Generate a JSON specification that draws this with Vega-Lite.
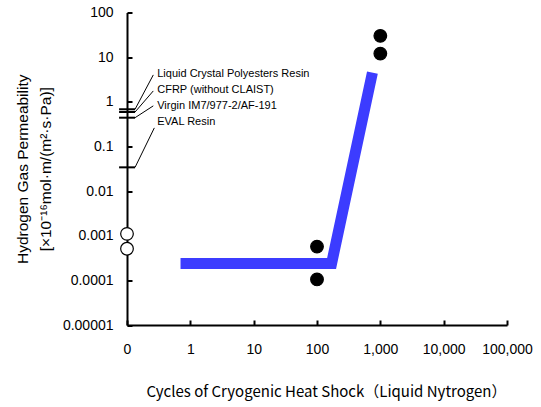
{
  "$schema": "https://vega.github.io/schema/vega-lite/v6.json",
  "width": 380,
  "height": 312.5,
  "autosize": {"type": "none"},
  "padding": {"left": 127, "top": 12.5, "right": 34, "bottom": 82},
  "background": "white",
  "config": {
    "view": {"stroke": null},
    "font": "Liberation Sans",
    "axis": {"grid": false, "domainColor": "black", "tickColor": "black", "labelColor": "black", "titleColor": "black", "domainWidth": 2, "tickWidth": 2, "labelFont": "Liberation Sans", "labelFontSize": 14, "titleFontWeight": "normal"}
  },
  "datasets": {
    "band": [
      {"x": 0.7, "y": 0.00024},
      {"x": 170, "y": 0.00024},
      {"x": 750, "y": 4.5}
    ],
    "pts": [
      {"x": 0.1, "y": 0.0011, "kind": "virgin"},
      {"x": 0.1, "y": 0.00051, "kind": "virgin"},
      {"x": 100, "y": 0.00057, "kind": "cycled"},
      {"x": 100, "y": 0.000105, "kind": "cycled"},
      {"x": 1000, "y": 30, "kind": "cycled"},
      {"x": 1000, "y": 12, "kind": "cycled"}
    ],
    "refs": [
      {"name": "Liquid Crystal Polyesters Resin", "v": 0.68, "x0": 0.075, "x1": 0.134, "xt": 0.26, "yt": 4.0, "xl": 0.30, "yl": 4.2},
      {"name": "CFRP  (without CLAIST)", "v": 0.59, "x0": 0.075, "x1": 0.134, "xt": 0.26, "yt": 1.75, "xl": 0.30, "yl": 1.85},
      {"name": "Virgin IM7/977-2/AF-191", "v": 0.44, "x0": 0.075, "x1": 0.134, "xt": 0.26, "yt": 0.81, "xl": 0.30, "yl": 0.81},
      {"name": "EVAL Resin", "v": 0.034, "x0": 0.075, "x1": 0.134, "xt": 0.27, "yt": 0.26, "xl": 0.30, "yl": 0.355}
    ]
  },
  "layer": [
    {
      "data": {"name": "band"},
      "mark": {"type": "line", "stroke": "#3c3cff", "strokeWidth": 11, "strokeJoin": "miter", "strokeCap": "butt"},
      "encoding": {
        "x": {"field": "x", "type": "quantitative", "scale": {"type": "log", "domain": [0.1, 100000], "nice": false},
          "axis": {"values": [0.1, 1, 10, 100, 1000, 10000, 100000], "labelExpr": "['0','1','10','100','1,000','10,000','100,000'][round(log(datum.value)/LN10) + 1]", "labelOverlap": false, "labelSeparation": 0, "labelFlush": false, "labelBound": false, "zindex": 2, "tickSize": -5, "labelPadding": 22, "title": "Cycles of Cryogenic Heat Shock（Liquid Nytrogen）", "titleFont": "Noto Sans CJK JP", "titleFontSize": 15, "titlePadding": 28, "titleX": 199, "titleAlign": "center"}},
        "y": {"field": "y", "type": "quantitative", "scale": {"type": "log", "domain": [0.00001, 100], "nice": false},
          "axis": {"values": [0.00001, 0.0001, 0.001, 0.01, 0.1, 1, 10, 100], "format": "~g", "labelOverlap": false, "tickSize": -5, "labelPadding": 19,
            "title": ["Hydrogen Gas Permeability", "[×10⁻¹⁶mol·m/(m²·s·Pa)]"], "titleFontSize": 15.5, "titleAngle": -90, "titleX": -100, "titleAlign": "center", "titleBaseline": "alphabetic", "titleLineHeight": 23}}
      }
    },
    {
      "data": {"name": "pts"},
      "mark": {"type": "point", "shape": "circle", "size": 160, "strokeWidth": 1.2, "opacity": 1},
      "encoding": {
        "x": {"field": "x", "type": "quantitative"},
        "y": {"field": "y", "type": "quantitative"},
        "fill": {"field": "kind", "type": "nominal", "scale": {"domain": ["virgin", "cycled"], "range": ["white", "black"]}, "legend": null},
        "stroke": {"value": "black"}
      }
    },
    {
      "data": {"name": "refs"},
      "mark": {"type": "rule", "stroke": "black", "strokeWidth": 2},
      "encoding": {
        "x": {"field": "x0", "type": "quantitative"},
        "x2": {"field": "x1"},
        "y": {"field": "v", "type": "quantitative"}
      }
    },
    {
      "data": {"name": "refs"},
      "mark": {"type": "rule", "stroke": "black", "strokeWidth": 1},
      "encoding": {
        "x": {"field": "x1", "type": "quantitative"},
        "x2": {"field": "xt"},
        "y": {"field": "v", "type": "quantitative"},
        "y2": {"field": "yt"}
      }
    },
    {
      "data": {"name": "refs"},
      "mark": {"type": "text", "align": "left", "baseline": "middle", "fontSize": 11, "font": "Liberation Sans", "color": "black"},
      "encoding": {
        "x": {"field": "xl", "type": "quantitative"},
        "y": {"field": "yl", "type": "quantitative"},
        "text": {"field": "name"}
      }
    }
  ]
}
